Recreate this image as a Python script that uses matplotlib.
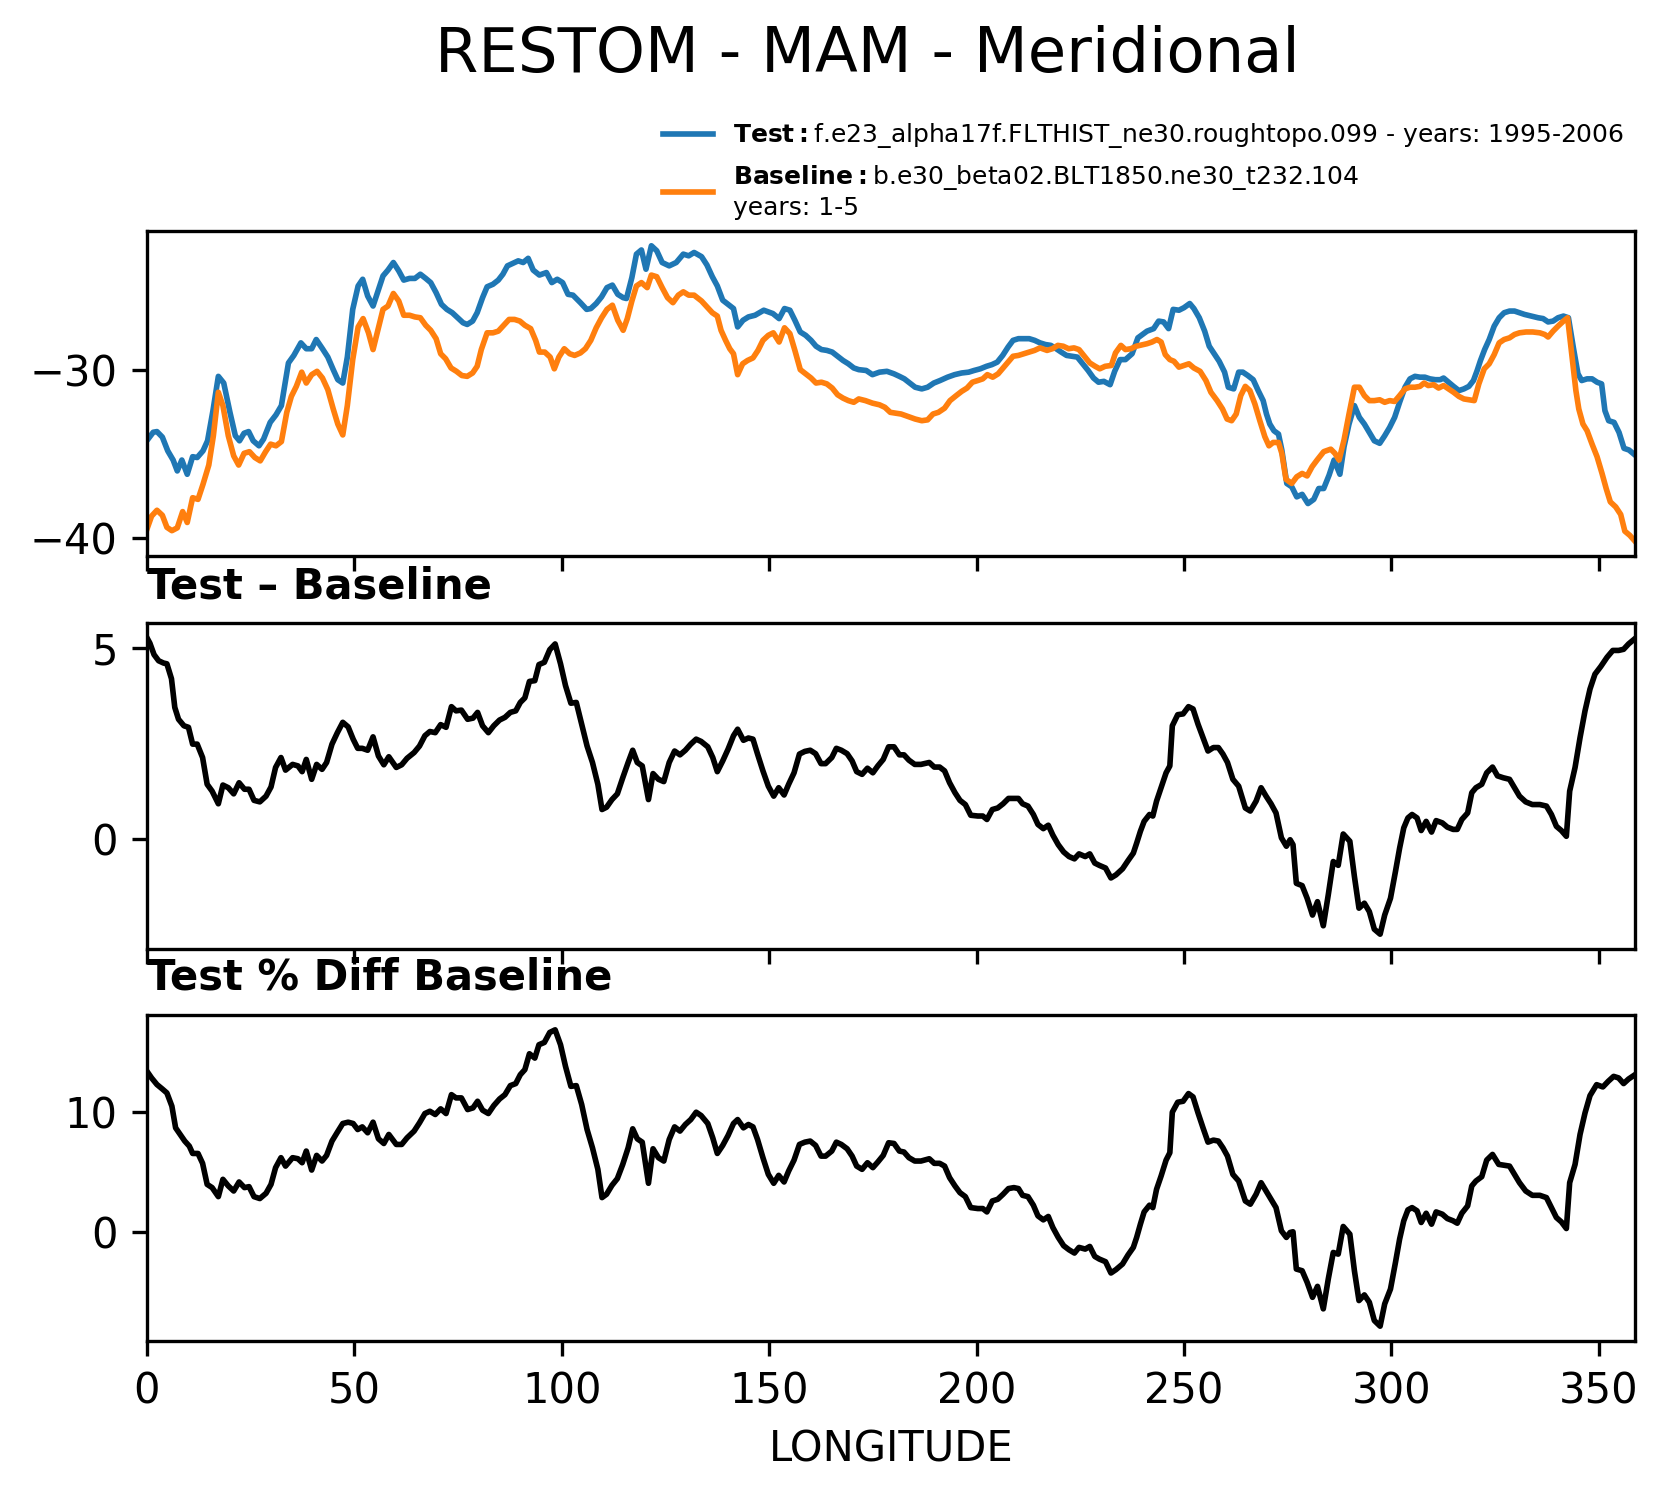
import matplotlib
matplotlib.use("Agg")
import matplotlib.pyplot as plt
from matplotlib.ticker import MultipleLocator

# values (longitude in degrees east)
test_lon = [0, 1.5, 2.4, 3.7, 5.0, 6.3, 7.3, 8.4, 9.7, 11.0, 12.1, 13.5, 14.6, 15.9, 17.2, 18.5, 20.0,
            21.3, 22.3, 23.4, 24.5, 25.6, 27.0, 28.1, 29.7, 31.1, 32.4, 34.1, 35.4, 37.1, 38.4, 39.7,
            40.8, 42.3, 43.6, 44.9, 46.0, 47.2, 48.3, 49.6, 50.9, 52.0, 53.2, 54.5, 55.7, 56.9, 58.1,
            59.4, 60.7, 61.9, 63.3, 64.6, 65.9, 67.2, 68.4, 69.7, 71.0, 72.3, 73.6, 74.9, 76.2, 77.2,
            78.5, 79.6, 80.9, 82.0, 83.4, 84.7, 85.8, 86.9, 88.2, 89.5, 90.7, 91.9, 93.1, 94.6, 96.3,
            97.6, 98.9, 100.2, 101.5, 102.7, 104.5, 106.0, 107.0, 108.3, 109.6, 110.9, 112.2, 113.5,
            114.8, 115.6, 116.9, 118.0, 119.2, 120.3, 121.6, 122.9, 124.2, 125.9, 127.6, 129.3, 130.6,
            131.9, 133.7, 135.0, 136.3, 137.5, 138.8, 140.1, 141.4, 142.4, 143.7, 145.0, 146.6, 148.7,
            150.9, 152.4, 153.7, 155.0, 156.2, 157.5, 158.8, 160.1, 161.3, 162.6, 163.9, 165.2, 166.5,
            167.8, 169.1, 170.4, 171.6, 173.4, 174.9, 176.6, 178.4, 180.1, 181.4, 182.6, 183.9, 185.2,
            186.8, 188.2, 189.7, 191.2, 193.0, 194.7, 196.4, 198.1, 199.4, 200.9, 202.4, 203.7, 205.0,
            206.3, 207.6, 208.8, 210.1, 211.4, 212.7, 214.0, 215.3, 216.6, 217.9, 219.2, 220.4, 221.7,
            223.0, 224.3, 225.6, 226.9, 228.2, 229.4, 230.7, 232.2, 233.3, 234.6, 235.9, 237.5, 238.9,
            241.1, 242.7, 243.9, 245.1, 246.3, 247.4, 248.8, 250.0, 251.4, 252.4, 253.7, 255.0, 256.1,
            257.3, 258.5, 259.8, 260.7, 262.0, 263.2, 264.2, 265.4, 266.7, 267.9, 269.1, 269.9, 270.7,
            271.7, 272.8, 273.6, 274.8, 276.0, 277.2, 278.5, 279.9, 281.3, 282.5, 283.7, 285.0, 286.2,
            287.6, 288.6, 289.8, 291.1, 292.3, 293.5, 294.7, 295.9, 297.2, 298.4, 299.6, 300.8, 302.0,
            303.3, 304.5, 305.7, 306.9, 308.1, 309.3, 310.6, 311.8, 312.6, 313.8, 315.0, 316.3, 317.5,
            318.7, 319.8, 320.7, 321.5, 322.5, 323.6, 324.8, 326.0, 327.2, 328.5, 329.7, 330.9, 332.1,
            333.7, 335.4, 336.6, 337.8, 339.0, 340.2, 341.5, 342.7, 343.9, 345.0, 345.9, 347.2, 348.4,
            349.6, 350.7, 351.5, 352.4, 353.7, 354.9, 356.1, 357.3, 358.75]
test_val = [-34.18, -33.69, -33.65, -33.98, -34.8, -35.35, -36.0, -35.35, -36.2, -35.15, -35.2, -34.8,
            -34.2, -32.4, -30.35, -30.75, -32.5, -33.9, -34.2, -33.75, -33.65, -34.2, -34.5, -34.1,
            -33.1, -32.65, -32.1, -29.55, -29.1, -28.35, -28.7, -28.7, -28.15, -28.7, -29.2, -29.95,
            -30.55, -30.75, -29.2, -26.35, -24.95, -24.55, -25.55, -26.15, -25.25, -24.35, -24.0,
            -23.55, -24.05, -24.6, -24.5, -24.5, -24.25, -24.5, -24.75, -25.35, -26.05, -26.35,
            -26.55, -26.85, -27.15, -27.25, -27.05, -26.55, -25.65, -25.0, -24.85, -24.6, -24.25,
            -23.75, -23.6, -23.45, -23.55, -23.3, -24.0, -24.3, -24.15, -24.75, -24.55, -24.75,
            -25.45, -25.5, -25.95, -26.35, -26.3, -26.0, -25.6, -25.05, -24.9, -25.45, -25.65, -25.7,
            -24.45, -23.05, -22.8, -23.95, -22.55, -22.85, -23.55, -23.75, -23.55, -23.05, -23.15,
            -22.95, -23.2, -23.7, -24.4, -24.95, -25.8, -26.05, -26.3, -27.4, -27.0, -26.8, -26.7,
            -26.4, -26.6, -26.9, -26.3, -26.4, -27.0, -27.7, -27.9, -28.2, -28.55, -28.75, -28.8,
            -28.9, -29.15, -29.4, -29.6, -29.85, -29.95, -30.0, -30.25, -30.1, -30.05, -30.2, -30.35,
            -30.5, -30.75, -31.0, -31.1, -31.0, -30.75, -30.6, -30.4, -30.25, -30.15, -30.1, -30.0,
            -29.9, -29.75, -29.65, -29.5, -29.1, -28.6, -28.2, -28.1, -28.1, -28.1, -28.2, -28.35,
            -28.45, -28.5, -28.7, -28.9, -29.1, -29.15, -29.2, -29.6, -30.0, -30.45, -30.7, -30.65,
            -30.85, -30.05, -29.35, -29.35, -29.0, -28.05, -27.65, -27.5, -27.05, -27.1, -27.5,
            -26.35, -26.4, -26.25, -26.0, -26.3, -26.85, -27.65, -28.55, -29.0, -29.45, -30.1, -31.0,
            -31.1, -30.1, -30.1, -30.3, -30.55, -31.2, -31.8, -32.6, -33.2, -33.6, -33.8, -34.75,
            -36.75, -36.95, -37.55, -37.4, -37.95, -37.7, -37.05, -37.05, -36.25, -35.35, -36.2,
            -34.55, -33.2, -32.1, -32.8, -33.2, -33.7, -34.2, -34.35, -33.9, -33.4, -32.8, -31.9,
            -31.0, -30.5, -30.35, -30.4, -30.4, -30.5, -30.55, -30.55, -30.45, -30.7, -30.95, -31.2,
            -31.1, -30.95, -30.6, -30.0, -29.4, -28.75, -28.15, -27.35, -26.85, -26.55, -26.45,
            -26.45, -26.55, -26.65, -26.75, -26.85, -26.9, -27.1, -27.05, -26.85, -26.75, -26.85,
            -28.65, -30.2, -30.6, -30.5, -30.5, -30.7, -30.8, -32.4, -33.0, -33.1, -33.7, -34.65,
            -34.75, -35.05]

base_lon = [0, 1.1, 2.4, 3.7, 4.8, 6.0, 7.3, 8.6, 9.7, 11.0, 12.3, 13.5, 14.9, 16.0, 17.2, 18.3, 19.6,
            20.9, 22.1, 23.4, 24.7, 26.0, 27.3, 28.6, 29.8, 31.1, 32.4, 33.7, 34.8, 36.0, 37.3, 38.4,
            39.7, 41.0, 42.3, 43.6, 44.9, 46.0, 47.2, 48.3, 49.6, 50.9, 52.1, 53.4, 54.5, 55.7, 56.9,
            58.1, 59.4, 60.7, 61.9, 63.3, 64.6, 65.9, 67.2, 68.4, 69.7, 70.8, 72.0, 73.3, 74.6, 75.9,
            77.2, 78.5, 79.6, 80.6, 82.0, 83.4, 84.7, 86.0, 87.3, 88.6, 89.9, 91.1, 92.5, 93.7, 94.6,
            95.9, 97.2, 98.2, 99.3, 100.6, 101.9, 103.1, 104.5, 105.7, 107.0, 108.3, 109.6, 110.9,
            112.2, 113.5, 114.8, 115.8, 116.9, 118.0, 119.2, 120.6, 121.6, 122.9, 124.2, 125.5, 126.8,
            128.1, 129.3, 130.6, 131.9, 133.7, 135.0, 136.3, 137.5, 138.4, 139.5, 140.5, 141.4, 142.4,
            143.6, 144.8, 146.1, 147.3, 148.5, 149.8, 151.0, 152.4, 153.7, 155.0, 156.2, 157.5, 158.8,
            160.1, 161.3, 162.6, 163.9, 165.2, 166.5, 167.8, 169.1, 170.4, 171.6, 173.2, 174.9, 176.6,
            177.9, 179.2, 180.5, 181.8, 183.5, 185.2, 186.8, 188.2, 189.5, 190.8, 192.3, 193.6, 195.1,
            196.4, 197.7, 199.0, 200.3, 201.5, 202.6, 203.9, 205.2, 206.4, 207.6, 208.8, 210.1, 211.4,
            212.7, 214.0, 215.3, 217.0, 218.3, 219.6, 220.9, 222.2, 223.5, 224.7, 226.0, 227.3, 228.6,
            229.7, 231.0, 232.5, 233.5, 234.8, 235.9, 237.2, 238.5, 241.1, 242.3, 243.5, 244.5, 245.5,
            246.6, 247.6, 248.8, 250.0, 251.2, 252.4, 253.9, 255.3, 256.5, 258.0, 259.3, 260.4, 261.5,
            262.6, 263.7, 264.8, 265.9, 267.1, 268.3, 269.5, 270.5, 271.5, 272.8, 273.6, 274.6, 276.0,
            277.2, 278.5, 279.7, 280.9, 282.1, 283.7, 285.4, 286.4, 287.4, 288.6, 289.8, 291.1, 292.3,
            293.5, 294.7, 295.9, 297.2, 298.4, 299.6, 300.8, 302.0, 303.3, 304.5, 305.7, 306.9, 307.9,
            308.9, 310.2, 311.4, 312.6, 313.8, 315.0, 316.3, 317.5, 318.7, 320.0, 321.1, 322.4, 323.6,
            324.8, 326.0, 327.2, 328.5, 329.7, 330.9, 332.5, 334.1, 335.8, 337.0, 337.8, 339.0, 340.2,
            341.5, 342.5, 343.5, 344.5, 345.2, 346.2, 347.2, 348.4, 349.6, 350.8, 351.8, 352.8, 354.1,
            355.3, 356.3, 357.5, 358.75]
base_val = [-39.47, -38.7, -38.35, -38.65, -39.37, -39.57, -39.4, -38.43, -39.08, -37.6, -37.7, -36.8,
            -35.65, -33.9, -31.3, -32.1, -33.9, -35.1, -35.65, -34.95, -34.85, -35.2, -35.4, -34.85,
            -34.4, -34.5, -34.25, -32.5, -31.55, -30.95, -30.1, -30.75, -30.25, -30.05, -30.45,
            -31.15, -32.3, -33.2, -33.85, -32.1, -29.35, -27.4, -26.9, -27.75, -28.75, -27.55, -26.35,
            -26.15, -25.4, -25.85, -26.7, -26.7, -26.8, -26.85, -27.3, -27.6, -28.1, -29.0, -29.3,
            -29.85, -30.05, -30.3, -30.35, -30.15, -29.75, -28.75, -27.75, -27.75, -27.65, -27.3,
            -26.95, -26.95, -27.05, -27.3, -27.5, -28.2, -28.9, -28.9, -29.2, -29.9, -29.2, -28.7,
            -29.0, -29.1, -28.95, -28.7, -28.2, -27.45, -26.85, -26.35, -26.1, -27.0, -27.6, -26.9,
            -25.85, -24.95, -24.75, -25.05, -24.3, -24.4, -25.05, -25.65, -25.95, -25.5, -25.3,
            -25.5, -25.5, -25.85, -26.2, -26.55, -26.75, -27.6, -28.2, -28.7, -29.0, -30.25, -29.6,
            -29.4, -29.25, -28.8, -28.2, -27.9, -27.75, -28.3, -27.45, -27.8, -28.8, -29.95, -30.2,
            -30.45, -30.75, -30.7, -30.8, -31.05, -31.45, -31.65, -31.8, -31.9, -31.7, -31.8, -31.95,
            -32.05, -32.2, -32.5, -32.55, -32.6, -32.75, -32.9, -33.0, -32.95, -32.6, -32.5, -32.25,
            -31.8, -31.5, -31.25, -31.05, -30.7, -30.6, -30.5, -30.25, -30.4, -30.2, -29.85, -29.5,
            -29.15, -29.1, -29.0, -28.9, -28.8, -28.65, -28.8, -28.7, -28.5, -28.55, -28.7, -28.65,
            -28.75, -29.15, -29.55, -29.75, -29.9, -29.75, -29.7, -28.95, -28.5, -28.75, -28.7,
            -28.55, -28.4, -28.3, -28.15, -28.3, -29.05, -29.35, -29.45, -29.8, -29.7, -29.6, -29.85,
            -30.05, -30.6, -31.3, -31.8, -32.3, -32.9, -33.0, -32.6, -31.5, -30.95, -31.2, -32.0,
            -33.0, -33.95, -34.5, -34.3, -34.3, -34.95, -36.5, -36.75, -36.35, -36.15, -36.3, -35.75,
            -35.35, -34.85, -34.7, -34.95, -35.35, -34.15, -32.6, -31.0, -31.0, -31.5, -31.8, -31.8,
            -31.75, -31.9, -31.8, -31.85, -31.5, -31.1, -31.0, -31.0, -30.95, -30.75, -30.9, -30.85,
            -31.05, -30.9, -31.1, -31.3, -31.55, -31.7, -31.75, -31.8, -30.8, -29.9, -29.6, -29.05,
            -28.35, -28.15, -28.05, -27.85, -27.75, -27.7, -27.7, -27.75, -27.85, -28.0, -27.65,
            -27.35, -27.05, -26.85, -29.05, -31.2, -32.3, -33.2, -33.6, -34.4, -35.15, -36.15,
            -37.05, -37.85, -38.15, -38.6, -39.6, -39.85, -40.2]

diff_lon = [0, 0.7, 1.7, 2.8, 4.0, 4.8, 5.9, 6.7, 7.6, 8.9, 10.0, 11.0, 12.1, 13.4, 14.5, 15.7, 17.2,
            18.3, 19.6, 20.9, 22.2, 23.5, 24.6, 25.8, 27.2, 28.7, 29.9, 31.0, 32.3, 33.4, 35.1, 36.4,
            37.4, 38.4, 39.7, 40.9, 42.2, 43.3, 44.6, 45.9, 47.2, 48.5, 49.7, 50.8, 51.9, 53.2, 54.5,
            55.8, 57.1, 58.3, 60.1, 61.4, 62.7, 64.4, 65.7, 67.0, 68.2, 69.5, 70.8, 72.1, 73.4, 74.5,
            75.8, 77.3, 78.6, 79.7, 80.9, 82.3, 83.6, 85.0, 86.3, 87.6, 88.9, 90.0, 91.1, 92.2, 93.5,
            94.5, 95.8, 97.1, 98.4, 99.7, 100.9, 102.2, 103.5, 104.8, 106.1, 107.4, 108.7, 109.7,
            110.8, 112.1, 113.4, 114.7, 116.0, 117.1, 118.2, 119.4, 120.9, 122.0, 123.3, 124.6, 125.9,
            127.2, 128.5, 129.8, 131.1, 132.4, 133.6, 135.2, 136.4, 137.5, 138.8, 140.1, 141.4, 142.4,
            143.8, 145.0, 146.1, 147.2, 148.5, 149.8, 151.1, 152.3, 153.6, 154.7, 156.0, 157.3, 158.6,
            159.9, 161.2, 162.5, 163.6, 165.1, 166.2, 167.4, 168.8, 170.0, 171.1, 172.4, 173.7, 175.0,
            176.2, 177.5, 178.8, 180.1, 181.4, 182.5, 183.7, 185.1, 186.6, 188.6, 189.8, 191.1, 192.3,
            193.5, 194.8, 196.0, 197.3, 198.6, 200.3, 201.5, 202.5, 203.8, 205.1, 206.4, 207.7, 209.0,
            210.1, 211.1, 212.4, 213.7, 214.8, 216.1, 217.3, 218.4, 219.7, 221.0, 222.3, 223.6, 224.7,
            226.2, 227.3, 228.5, 229.6, 231.1, 232.4, 233.6, 235.2, 236.5, 237.8, 238.6, 239.5, 240.4,
            241.7, 242.5, 243.4, 244.5, 245.7, 246.6, 247.2, 248.5, 249.8, 251.1, 252.2, 253.4, 254.6,
            255.8, 257.1, 258.3, 259.4, 260.5, 261.8, 263.2, 264.8, 266.0, 267.4, 268.6, 269.8, 271.0,
            272.2, 273.5, 274.7, 275.6, 276.3, 277.1, 278.5, 279.7, 281.0, 282.2, 283.6, 284.8, 286.0,
            287.2, 288.4, 290.0, 291.1, 292.2, 293.5, 294.7, 295.9, 297.3, 298.4, 299.8, 301.0, 302.0,
            303.0, 304.0, 305.0, 306.2, 307.2, 308.4, 309.7, 310.8, 312.3, 313.5, 314.9, 315.9, 317.0,
            318.4, 319.4, 320.4, 321.8, 323.0, 324.4, 325.6, 327.0, 328.5, 329.7, 330.9, 332.4, 334.0,
            335.8, 337.4, 338.6, 339.8, 341.0, 342.2, 343.0, 344.3, 345.5, 346.7, 347.9, 349.1, 350.5,
            352.0, 353.4, 354.8, 356.0, 357.2, 358.75]
diff_val = [5.26, 5.12, 4.82, 4.66, 4.6, 4.58, 4.19, 3.44, 3.13, 2.96, 2.92, 2.48, 2.48, 2.13, 1.43, 1.25,
            0.92, 1.41, 1.34, 1.18, 1.47, 1.3, 1.3, 1.01, 0.97, 1.12, 1.36, 1.87, 2.13, 1.8, 1.95, 1.91,
            1.76, 2.08, 1.56, 1.95, 1.82, 2.0, 2.48, 2.78, 3.05, 2.93, 2.61, 2.37, 2.37, 2.32, 2.67,
            2.17, 1.94, 2.15, 1.87, 1.94, 2.11, 2.26, 2.43, 2.7, 2.81, 2.78, 2.99, 2.92, 3.46, 3.35,
            3.37, 3.13, 3.16, 3.31, 2.96, 2.78, 2.96, 3.11, 3.18, 3.31, 3.35, 3.57, 3.69, 4.12, 4.14,
            4.56, 4.62, 4.95, 5.1, 4.58, 4.01, 3.55, 3.57, 3.0, 2.43, 2.0, 1.43, 0.77, 0.83, 1.03,
            1.18, 1.6, 2.0, 2.32, 2.0, 1.91, 1.03, 1.71, 1.56, 1.5, 2.0, 2.3, 2.2, 2.32, 2.48, 2.61,
            2.55, 2.41, 2.13, 1.76, 2.04, 2.35, 2.7, 2.87, 2.58, 2.64, 2.61, 2.22, 1.78, 1.38, 1.12,
            1.34, 1.15, 1.43, 1.73, 2.22, 2.29, 2.32, 2.23, 1.97, 1.97, 2.13, 2.37, 2.32, 2.23, 2.04,
            1.76, 1.69, 1.85, 1.73, 1.91, 2.08, 2.41, 2.41, 2.2, 2.2, 2.06, 1.95, 1.95, 2.0, 1.88,
            1.88, 1.78, 1.47, 1.21, 1.01, 0.9, 0.62, 0.6, 0.6, 0.51, 0.77, 0.81, 0.92, 1.06, 1.06,
            1.06, 0.92, 0.86, 0.64, 0.38, 0.27, 0.36, 0.1, -0.15, -0.34, -0.46, -0.52, -0.39, -0.46,
            -0.39, -0.63, -0.69, -0.76, -1.02, -0.94, -0.78, -0.57, -0.37, -0.11, 0.2, 0.46, 0.64,
            0.6, 0.99, 1.34, 1.73, 1.91, 2.96, 3.25, 3.27, 3.46, 3.4, 3.0, 2.65, 2.3, 2.39, 2.39,
            2.22, 2.0, 1.56, 1.38, 0.81, 0.73, 0.99, 1.34, 1.12, 0.92, 0.68, 0.03, -0.19, -0.02,
            -0.15, -1.16, -1.22, -1.55, -1.99, -1.64, -2.27, -1.46, -0.59, -0.69, 0.13, -0.06, -0.98,
            -1.81, -1.68, -1.9, -2.36, -2.49, -1.99, -1.55, -0.85, -0.24, 0.29, 0.55, 0.64, 0.55,
            0.22, 0.46, 0.18, 0.48, 0.42, 0.31, 0.25, 0.25, 0.51, 0.68, 1.21, 1.34, 1.43, 1.73, 1.88,
            1.65, 1.6, 1.56, 1.34, 1.12, 0.97, 0.9, 0.9, 0.86, 0.64, 0.33, 0.22, 0.07, 1.25, 1.87,
            2.65, 3.35, 3.92, 4.31, 4.51, 4.75, 4.93, 4.93, 4.96, 5.1, 5.24]

pct_lon = [0, 1.1, 2.4, 3.7, 4.8, 6.0, 6.9, 8.0, 9.1, 10.2, 11.0, 12.3, 13.4, 14.5, 15.7, 17.2, 18.3,
           19.6, 20.9, 22.2, 23.5, 24.6, 25.8, 27.2, 28.7, 29.9, 31.0, 32.3, 33.4, 35.1, 36.4, 37.4,
           38.4, 39.7, 40.9, 42.2, 43.3, 44.6, 45.9, 47.2, 48.5, 49.7, 50.8, 51.9, 53.2, 54.5, 55.8,
           57.1, 58.3, 60.1, 61.4, 62.7, 64.4, 65.7, 67.0, 68.2, 69.5, 70.8, 72.1, 73.4, 74.5, 75.8,
           77.3, 78.6, 79.7, 80.9, 82.3, 83.6, 85.0, 86.3, 87.6, 88.9, 90.0, 91.1, 92.2, 93.5, 94.5,
           95.8, 97.1, 98.4, 99.7, 100.9, 102.2, 103.5, 104.8, 106.1, 107.4, 108.7, 109.7, 110.8,
           112.1, 113.4, 114.7, 116.0, 117.1, 118.2, 119.4, 120.9, 122.0, 123.3, 124.6, 125.9, 127.2,
           128.5, 129.8, 131.1, 132.4, 133.6, 135.2, 136.4, 137.5, 138.8, 140.1, 141.4, 142.4, 143.8,
           145.0, 146.1, 147.2, 148.5, 149.8, 151.1, 152.3, 153.6, 154.7, 156.0, 157.3, 158.6, 159.9,
           161.2, 162.5, 163.6, 165.1, 166.2, 167.4, 168.8, 170.0, 171.1, 172.4, 173.7, 175.0, 176.2,
           177.5, 178.8, 180.1, 181.4, 182.5, 183.7, 185.1, 186.6, 188.6, 189.8, 191.1, 192.3, 193.5,
           194.8, 196.0, 197.3, 198.6, 200.3, 201.5, 202.5, 203.8, 205.1, 206.4, 207.7, 209.0, 210.1,
           211.1, 212.4, 213.7, 214.8, 216.1, 217.3, 218.4, 219.7, 221.0, 222.3, 223.6, 224.7, 226.2,
           227.3, 228.5, 229.6, 231.1, 232.4, 233.6, 235.2, 236.5, 237.8, 238.6, 239.5, 240.4, 241.7,
           242.5, 243.4, 244.5, 245.7, 246.6, 247.2, 248.5, 249.8, 251.1, 252.2, 253.4, 254.6, 255.8,
           257.1, 258.3, 259.4, 260.5, 261.8, 263.2, 264.8, 266.0, 267.4, 268.6, 269.8, 271.0, 272.2,
           273.5, 274.7, 275.6, 276.3, 277.1, 278.5, 279.7, 281.0, 282.2, 283.6, 284.8, 286.0, 287.2,
           288.4, 290.0, 291.1, 292.2, 293.5, 294.7, 295.9, 297.3, 298.4, 299.8, 301.0, 302.0, 303.0,
           304.0, 305.0, 306.2, 307.2, 308.4, 309.7, 310.8, 312.3, 313.5, 314.9, 315.9, 317.0, 318.4,
           319.4, 320.4, 321.8, 323.0, 324.4, 325.9, 327.3, 328.5, 329.7, 330.9, 332.4, 334.0, 335.8,
           337.4, 338.6, 339.8, 341.0, 342.2, 343.0, 344.3, 345.5, 346.7, 347.9, 349.5, 351.0, 352.3,
           353.6, 354.8, 356.0, 357.2, 358.75]
pct_val = [13.4, 12.85, 12.3, 11.93, 11.6, 10.5, 8.7, 8.15, 7.6, 7.18, 6.57, 6.57, 5.75, 4.0, 3.73, 2.98,
           4.42, 3.87, 3.45, 4.2, 3.73, 3.81, 2.98, 2.82, 3.26, 4.0, 5.39, 6.22, 5.52, 6.22, 6.13, 5.8,
           6.77, 5.19, 6.41, 5.94, 6.41, 7.6, 8.34, 9.06, 9.17, 9.06, 8.56, 8.78, 8.29, 9.17, 7.79,
           7.4, 8.15, 7.32, 7.32, 7.87, 8.43, 9.12, 9.89, 10.08, 9.81, 10.28, 9.89, 11.46, 11.19,
           11.19, 10.22, 10.36, 10.91, 10.17, 9.89, 10.55, 11.1, 11.46, 12.21, 12.38, 13.12, 13.54,
           14.86, 14.5, 15.61, 15.8, 16.63, 16.85, 15.61, 13.81, 12.15, 12.21, 10.64, 8.56, 7.04,
           5.25, 2.9, 3.18, 3.92, 4.48, 5.66, 7.04, 8.62, 7.79, 7.51, 4.09, 6.96, 6.22, 5.94, 7.73,
           8.78, 8.43, 8.98, 9.39, 10.0, 9.72, 9.06, 7.87, 6.57, 7.24, 8.07, 9.06, 9.39, 8.7, 8.98,
           8.78, 7.73, 6.22, 4.83, 4.09, 4.75, 4.2, 5.11, 6.02, 7.32, 7.51, 7.6, 7.24, 6.35, 6.35,
           6.77, 7.51, 7.32, 6.96, 6.35, 5.52, 5.25, 5.8, 5.39, 5.86, 6.41, 7.46, 7.4, 6.77, 6.69,
           6.22, 5.94, 5.94, 6.13, 5.75, 5.75, 5.52, 4.56, 3.87, 3.31, 2.98, 2.07, 1.99, 1.99, 1.71,
           2.62, 2.76, 3.18, 3.65, 3.73, 3.65, 3.09, 2.98, 2.27, 1.38, 1.05, 1.33, 0.41, -0.41, -1.1,
           -1.44, -1.71, -1.24, -1.38, -1.16, -1.99, -2.21, -2.43, -3.37, -3.09, -2.62, -1.88, -1.24,
           -0.41, 0.69, 1.71, 2.27, 2.07, 3.59, 4.7, 6.02, 6.63, 10.0, 10.83, 10.91, 11.55, 11.27,
           9.94, 8.7, 7.51, 7.68, 7.6, 7.04, 6.35, 4.83, 4.28, 2.62, 2.35, 3.18, 4.14, 3.45, 2.76,
           2.07, 0.14, -0.41, 0.0, 0.06, -3.04, -3.18, -4.14, -5.39, -4.48, -6.35, -3.87, -1.66,
           -1.8, 0.5, -0.14, -3.18, -5.66, -5.19, -5.8, -7.32, -7.79, -5.94, -4.7, -2.49, -0.55,
           0.97, 1.88, 2.07, 1.8, 0.83, 1.6, 0.69, 1.71, 1.52, 1.16, 0.97, 0.77, 1.6, 2.21, 3.87,
           4.28, 4.64, 6.02, 6.49, 5.66, 5.58, 5.52, 4.83, 4.14, 3.45, 3.09, 3.09, 2.9, 2.07, 1.24,
           0.88, 0.33, 4.14, 5.66, 8.15, 9.94, 11.38, 12.29, 12.1, 12.57, 12.98, 12.85, 12.38,
           12.76, 13.12]

test_label = r"$\bf{Test}:$f.e23_alpha17f.FLTHIST_ne30.roughtopo.099 - years: 1995-2006"
base_label = r"$\bf{Baseline}:$b.e30_beta02.BLT1850.ne30_t232.104" + "\nyears: 1-5"

W, H = 1668, 1496
fig = plt.figure(figsize=(W / 300, H / 300), dpi=300)

def px_rect(top, bottom, left=147, right=1635):
    return [left / W, 1 - bottom / H, (right - left) / W, (bottom - top) / H]

ax1 = fig.add_axes(px_rect(231, 556))
ax2 = fig.add_axes(px_rect(623, 949), sharex=ax1)
ax3 = fig.add_axes(px_rect(1015, 1341), sharex=ax1)

lw = 1.35
ax1.plot(test_lon, test_val, color="#1f77b4", lw=lw, label=test_label)
ax1.plot(base_lon, base_val, color="#ff7f0e", lw=lw, label=base_label)
ax2.plot(diff_lon, diff_val, color="black", lw=lw)
ax3.plot(pct_lon, pct_val, color="black", lw=lw)

ax1.set_xlim(0, 358.75)
ax3.xaxis.set_major_locator(MultipleLocator(50))
ax1.yaxis.set_major_locator(MultipleLocator(10))
ax2.yaxis.set_major_locator(MultipleLocator(5))
ax3.yaxis.set_major_locator(MultipleLocator(10))

for ax in (ax1, ax2, ax3):
    ax.tick_params(labelsize=10)
for ax in (ax1, ax2):
    ax.tick_params(labelbottom=False)

ax2.set_title("Test \u2013 Baseline", loc="left", fontweight="bold", fontsize=10)
ax3.set_title("Test % Diff Baseline", loc="left", fontweight="bold", fontsize=10)
ax3.set_xlabel("LONGITUDE", fontsize=10)

ax1.legend(loc="lower right", bbox_to_anchor=(1, 1), frameon=False, fontsize=6,
           borderaxespad=0.05)

fig.text(0.52, 1 - 55 / H, "RESTOM - MAM - Meridional", ha="center", va="center", fontsize=15)

fig.savefig("out.png", dpi=300)
